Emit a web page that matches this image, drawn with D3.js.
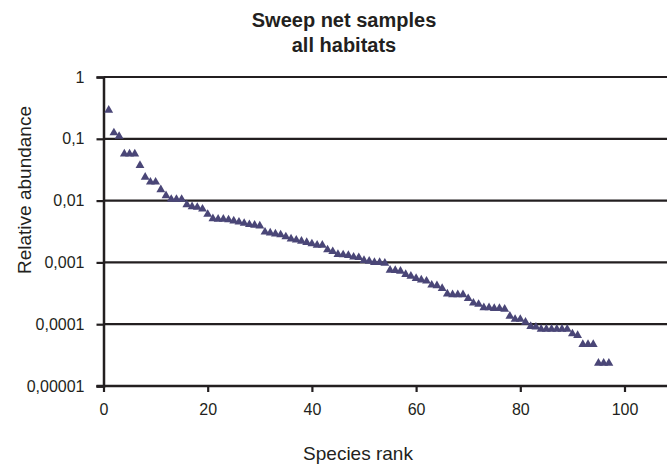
<!DOCTYPE html>
<html>
<head>
<meta charset="utf-8">
<script src="https://cdn.jsdelivr.net/npm/d3@7"></script>
<style>
  html, body { margin: 0; padding: 0; background: #fff; }
  svg { display: block; }
  text { font-family: "Liberation Sans", Arial, sans-serif; fill: #231f20; }
</style>
</head>
<body>
<svg id="chart" width="667" height="472"></svg>
<script>
// ---- data ----
const titleLines = ["Sweep net samples", "all habitats"];
const xLabel = "Species rank";
const yLabel = "Relative abundance";
const xTicks = [0, 20, 40, 60, 80, 100];
const yTicks = [1, 0.1, 0.01, 0.001, 0.0001, 0.00001];
const yTickLabels = ["1", "0,1", "0,01", "0,001", "0,0001", "0,00001"];
const abundance = [
  0.29, 0.125, 0.11, 0.057, 0.057, 0.057, 0.037, 0.024, 0.020, 0.020,
  0.015, 0.012, 0.0105, 0.0105, 0.0105, 0.0086, 0.0080, 0.0078, 0.0073, 0.0060,
  0.0051, 0.0050, 0.0050, 0.0049, 0.0047, 0.0045, 0.0043, 0.0041, 0.0040, 0.0039,
  0.0031, 0.0030, 0.0029, 0.0028, 0.0026, 0.0024, 0.0023, 0.0022, 0.0021, 0.0020,
  0.0019, 0.0019, 0.0016, 0.0015, 0.00135, 0.00133, 0.0013, 0.00122, 0.0012, 0.00108,
  0.00105, 0.0010, 0.0010, 0.00097, 0.00075, 0.00074, 0.00072, 0.00064, 0.00060, 0.00055,
  0.00052, 0.00050, 0.00043, 0.00042, 0.00038, 0.00031, 0.00030, 0.00030, 0.00030, 0.00026,
  0.00022, 0.00021, 0.000185, 0.000185, 0.00018, 0.00018, 0.000175, 0.000135, 0.00012, 0.00012,
  0.000108, 0.000092, 0.00009, 0.000083, 0.000083, 0.000083, 0.000083, 0.000083, 0.000083, 0.00007,
  0.000066, 0.000047, 0.000047, 0.000047, 0.0000235, 0.0000235, 0.0000235
];
const ranks = abundance.map((d, i) => i + 1);

// ---- layout ----
const W = 667, H = 472;
const plot = { left: 103.5, top: 77, bottom: 386 };
const ink = "#231f20";
const font = "Liberation Sans, Arial, sans-serif";
const svg = d3.select("#chart");

const x = d3.scaleLinear().domain([0, 120]).range([plot.left, plot.left + 625.2]);
const y = d3.scaleLog().domain([0.00001, 1]).range([plot.bottom, plot.top]);

// gridlines
svg.append("g")
  .selectAll("line")
  .data(yTicks)
  .join("line")
  .attr("x1", plot.left)
  .attr("x2", W)
  .attr("y1", d => y(d))
  .attr("y2", d => y(d))
  .attr("stroke", ink)
  .attr("stroke-width", 2.2);

// y axis
const yAxis = d3.axisLeft(y)
  .tickValues(yTicks)
  .tickFormat((d, i) => yTickLabels[i])
  .tickSize(7)
  .tickPadding(12);
const gy = svg.append("g").attr("transform", `translate(${plot.left},0)`).call(yAxis);
gy.select(".domain").attr("stroke", ink).attr("stroke-width", 2.5);
gy.selectAll(".tick line").attr("stroke", ink).attr("stroke-width", 2.2);
gy.selectAll(".tick text").attr("font-size", 16).attr("font-family", font).attr("fill", ink);

// x axis
const xAxis = d3.axisBottom(x)
  .tickValues(xTicks)
  .tickSize(6)
  .tickPadding(12);
const gx = svg.append("g").attr("transform", `translate(0,${plot.bottom})`).call(xAxis);
gx.select(".domain").remove();
gx.append("line").attr("x1", plot.left - 7).attr("x2", W).attr("y1", 0).attr("y2", 0)
  .attr("stroke", ink).attr("stroke-width", 2.5);
gx.selectAll(".tick line").attr("stroke", ink).attr("stroke-width", 2.2);
gx.selectAll(".tick text").attr("font-size", 16).attr("font-family", font).attr("fill", ink);

// points
svg.append("g")
  .selectAll("path")
  .data(abundance)
  .join("path")
  .attr("d", d3.symbol().type(d3.symbolTriangle).size(34))
  .attr("transform", (d, i) => `translate(${x(ranks[i])},${y(d)})`)
  .attr("fill", "#4a4677");

// title
svg.append("text")
  .attr("x", 344).attr("y", 27)
  .attr("text-anchor", "middle")
  .attr("font-size", 20).attr("font-weight", "bold")
  .text(titleLines[0]);
svg.append("text")
  .attr("x", 344).attr("y", 52)
  .attr("text-anchor", "middle")
  .attr("font-size", 20).attr("font-weight", "bold")
  .text(titleLines[1]);

// axis titles
svg.append("text")
  .attr("x", 358).attr("y", 460)
  .attr("text-anchor", "middle")
  .attr("font-size", 19)
  .text(xLabel);
svg.append("text")
  .attr("transform", `translate(31,190) rotate(-90)`)
  .attr("text-anchor", "middle")
  .attr("font-size", 19)
  .text(yLabel);
</script>
</body>
</html>
